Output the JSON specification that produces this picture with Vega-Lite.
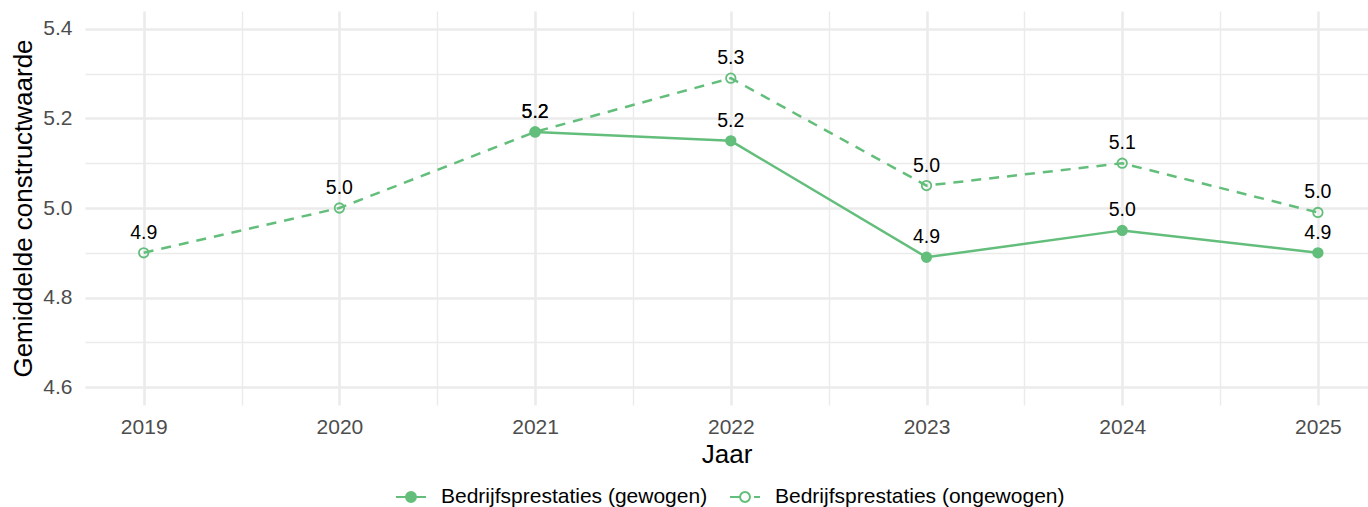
{
  "$schema": "https://vega.github.io/schema/vega-lite/v6.json",
  "width": 1283,
  "height": 394,
  "autosize": {"type": "none"},
  "padding": {"left": 85, "top": 11, "right": 0, "bottom": 102},
  "background": "white",
  "config": {
    "view": {"stroke": null},
    "font": "Liberation Sans",
    "axis": {
      "domain": false,
      "ticks": false,
      "tickSize": 0,
      "gridColor": "#EBEBEB",
      "labelFont": "Liberation Sans",
      "labelFontSize": 21,
      "labelColor": "#4D4D4D",
      "titleFont": "Liberation Sans",
      "titleFontSize": 26,
      "titleFontWeight": "normal",
      "titleColor": "#000000"
    },
    "legend": {
      "direction": "horizontal",
      "symbolSize": 900,
      "symbolStrokeWidth": 2,
      "symbolStrokeColor": "#63BE7B",
      "labelFont": "Liberation Sans",
      "labelFontSize": 21,
      "labelColor": "#000000",
      "labelLimit": 0,
      "columnPadding": 18,
      "labelOffset": 14,
      "padding": 0
    }
  },
  "data": {
    "values": [
      {"jaar": 2021, "reeks": "Bedrijfsprestaties (gewogen)", "waarde": 5.17},
      {"jaar": 2022, "reeks": "Bedrijfsprestaties (gewogen)", "waarde": 5.15},
      {"jaar": 2023, "reeks": "Bedrijfsprestaties (gewogen)", "waarde": 4.89},
      {"jaar": 2024, "reeks": "Bedrijfsprestaties (gewogen)", "waarde": 4.95},
      {"jaar": 2025, "reeks": "Bedrijfsprestaties (gewogen)", "waarde": 4.90},
      {"jaar": 2019, "reeks": "Bedrijfsprestaties (ongewogen)", "waarde": 4.90},
      {"jaar": 2020, "reeks": "Bedrijfsprestaties (ongewogen)", "waarde": 5.00},
      {"jaar": 2021, "reeks": "Bedrijfsprestaties (ongewogen)", "waarde": 5.17},
      {"jaar": 2022, "reeks": "Bedrijfsprestaties (ongewogen)", "waarde": 5.29},
      {"jaar": 2023, "reeks": "Bedrijfsprestaties (ongewogen)", "waarde": 5.05},
      {"jaar": 2024, "reeks": "Bedrijfsprestaties (ongewogen)", "waarde": 5.10},
      {"jaar": 2025, "reeks": "Bedrijfsprestaties (ongewogen)", "waarde": 4.99}
    ]
  },
  "encoding": {
    "x": {
      "field": "jaar",
      "type": "quantitative",
      "scale": {"domain": [2018.7, 2025.256], "nice": false, "zero": false},
      "axis": {
        "title": "Jaar",
        "values": [2019, 2019.5, 2020, 2020.5, 2021, 2021.5, 2022, 2022.5, 2023, 2023.5, 2024, 2024.5, 2025],
        "labelExpr": "datum.value % 1 === 0 ? format(datum.value, 'd') : ''",
        "labelPadding": 11,
        "titlePadding": 4,
        "gridWidth": {"condition": {"test": "datum.value % 1 === 0", "value": 2.6}, "value": 1.4}
      }
    },
    "y": {
      "field": "waarde",
      "type": "quantitative",
      "scale": {"domain": [4.56, 5.44], "nice": false, "zero": false},
      "axis": {
        "title": "Gemiddelde constructwaarde",
        "values": [4.6, 4.7, 4.8, 4.9, 5.0, 5.1, 5.2, 5.3, 5.4],
        "labelExpr": "round(datum.value * 10) % 2 === 0 ? format(datum.value, '.1f') : ''",
        "labelPadding": 13,
        "titlePadding": 6,
        "gridWidth": {"condition": {"test": "round(datum.value * 10) % 2 === 0", "value": 2.6}, "value": 1.4}
      }
    }
  },
  "layer": [
    {
      "transform": [{"filter": "datum.reeks === 'Bedrijfsprestaties (gewogen)'"}],
      "mark": {"type": "line", "stroke": "#63BE7B", "strokeWidth": 2.5}
    },
    {
      "transform": [{"filter": "datum.reeks === 'Bedrijfsprestaties (ongewogen)'"}],
      "mark": {"type": "line", "stroke": "#63BE7B", "strokeWidth": 2.5, "strokeDash": [10, 8]}
    },
    {
      "mark": {"type": "point", "shape": "circle", "filled": true, "stroke": "#63BE7B", "strokeWidth": 1.8, "size": 90, "opacity": 1},
      "encoding": {
        "fill": {
          "field": "reeks",
          "type": "nominal",
          "scale": {"domain": ["Bedrijfsprestaties (gewogen)", "Bedrijfsprestaties (ongewogen)"], "range": ["#63BE7B", "transparent"]},
          "legend": {"title": null, "orient": "none", "legendX": 310, "legendY": 470, "direction": "horizontal"}
        }
      }
    },
    {
      "mark": {"type": "text", "dy": -14, "baseline": "alphabetic", "fontSize": 19.5, "font": "Liberation Sans", "color": "#000000"},
      "encoding": {
        "text": {"field": "waarde", "type": "quantitative", "format": ".1f"}
      }
    },
    {
      "transform": [{"filter": "false"}],
      "mark": {"type": "point", "filled": true, "stroke": "#63BE7B", "strokeWidth": 2, "opacity": 1},
      "encoding": {
        "shape": {
          "field": "reeks",
          "type": "nominal",
          "scale": {
            "domain": ["Bedrijfsprestaties (gewogen)", "Bedrijfsprestaties (ongewogen)"],
            "range": [
              "M-1,0L1,0M0.33,0A0.33,0.33,0,1,1,-0.33,0A0.33,0.33,0,1,1,0.33,0Z",
              "M-1,0L-0.33,0M0.6,0L1,0M0.33,0A0.33,0.33,0,1,1,-0.33,0A0.33,0.33,0,1,1,0.33,0Z"
            ]
          },
          "legend": {"title": null, "orient": "none", "legendX": 310, "legendY": 470, "direction": "horizontal"}
        },
        "fill": {
          "field": "reeks",
          "type": "nominal",
          "legend": {"title": null, "orient": "none", "legendX": 310, "legendY": 470, "direction": "horizontal"}
        }
      }
    }
  ]
}
